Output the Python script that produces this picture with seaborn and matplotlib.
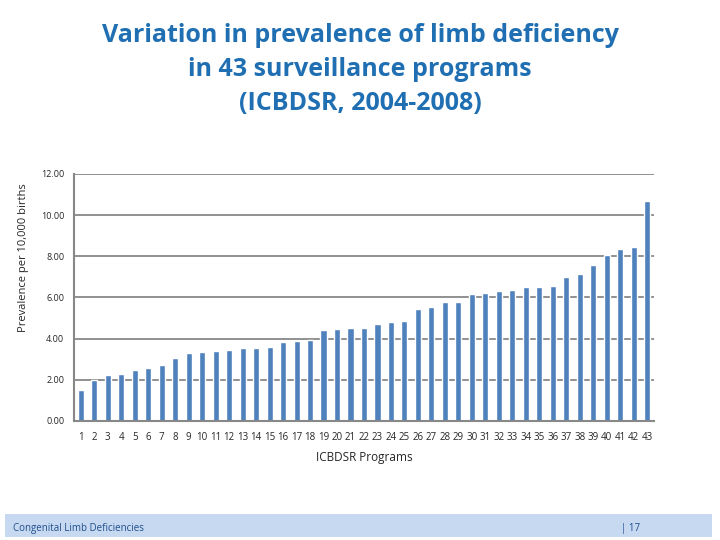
import matplotlib
matplotlib.use("Agg")
import matplotlib.pyplot as plt
import seaborn as sns
import pandas as pd
from matplotlib.patches import Rectangle

programs = [str(i) for i in range(1, 44)]
prevalence = [1.49, 1.98, 2.22, 2.27, 2.46, 2.58, 2.71, 3.05, 3.31, 3.36,
              3.39, 3.44, 3.55, 3.54, 3.58, 3.83, 3.88, 3.94, 4.41, 4.46,
              4.51, 4.51, 4.70, 4.80, 4.85, 5.43, 5.53, 5.79, 5.79, 6.16,
              6.23, 6.31, 6.37, 6.50, 6.50, 6.55, 6.99, 7.13, 7.57, 8.04,
              8.35, 8.45, 10.69]
y_ticks = [0, 2, 4, 6, 8, 10, 12]

title_text = "Variation in prevalence of limb deficiency\nin 43 surveillance programs\n(ICBDSR, 2004-2008)"
x_label = "ICBDSR Programs"
y_label = "Prevalence per 10,000 births"
footer_text = "Congenital Limb Deficiencies"
page_text = "| 17"

sns.set_style("white")
plt.rcParams['font.family'] = ['Open Sans', 'DejaVu Sans']

df = pd.DataFrame({"program": programs, "prevalence": prevalence})

fig = plt.figure(figsize=(7.2, 5.4), dpi=100)
ax = fig.add_axes([0.1028, 0.2204, 0.8055, 0.4574])

sns.barplot(data=df, x="program", y="prevalence", color="#4F81BD",
            saturation=1, width=0.45, ax=ax)
for p in ax.patches:
    p.set_zorder(3)

ax.set_ylim(0, 12)
ax.set_xlim(-0.5, 42.5)
ax.set_yticks(y_ticks)
ax.set_yticklabels([f"{v:.2f}" for v in y_ticks], fontsize=6.5)
ax.tick_params(axis='x', labelsize=7, length=0, pad=8)
ax.tick_params(axis='y', length=4, color="#888888", pad=3)
ax.yaxis.grid(True, color="#888888", linewidth=1.3, zorder=0)
ax.set_axisbelow(True)
for s in ["top", "right"]:
    ax.spines[s].set_visible(False)
for s in ["left", "bottom"]:
    ax.spines[s].set_color("#888888")
    ax.spines[s].set_linewidth(1.5)
    ax.spines[s].set_zorder(4)

# minor ticks between categories on x-axis
ax.set_xticks([i + 0.5 for i in range(-1, 43)], minor=True)
ax.tick_params(axis='x', which='minor', length=4, color="#888888", width=1)

ax.set_xlabel(x_label, fontsize=8.5, labelpad=6)
ax.set_ylabel(y_label, fontsize=8, labelpad=10)
ax.yaxis.set_label_coords(-0.078, 0.66)

fig.text(0.5, 0.957, title_text, ha="center", va="top", fontsize=18,
         fontweight="bold", color="#1F6FB2", linespacing=1.48)

fig.patches.append(Rectangle((0.007, 0.005), 0.982, 0.043,
                             transform=fig.transFigure, facecolor="#C6D9F1",
                             edgecolor="none", zorder=0))
fig.text(0.018, 0.022, footer_text, fontsize=7, color="#1F4E8C", va="center")
fig.text(0.863, 0.022, page_text, fontsize=7, color="#1F4E8C", va="center")

fig.savefig("out.png", dpi=100)
